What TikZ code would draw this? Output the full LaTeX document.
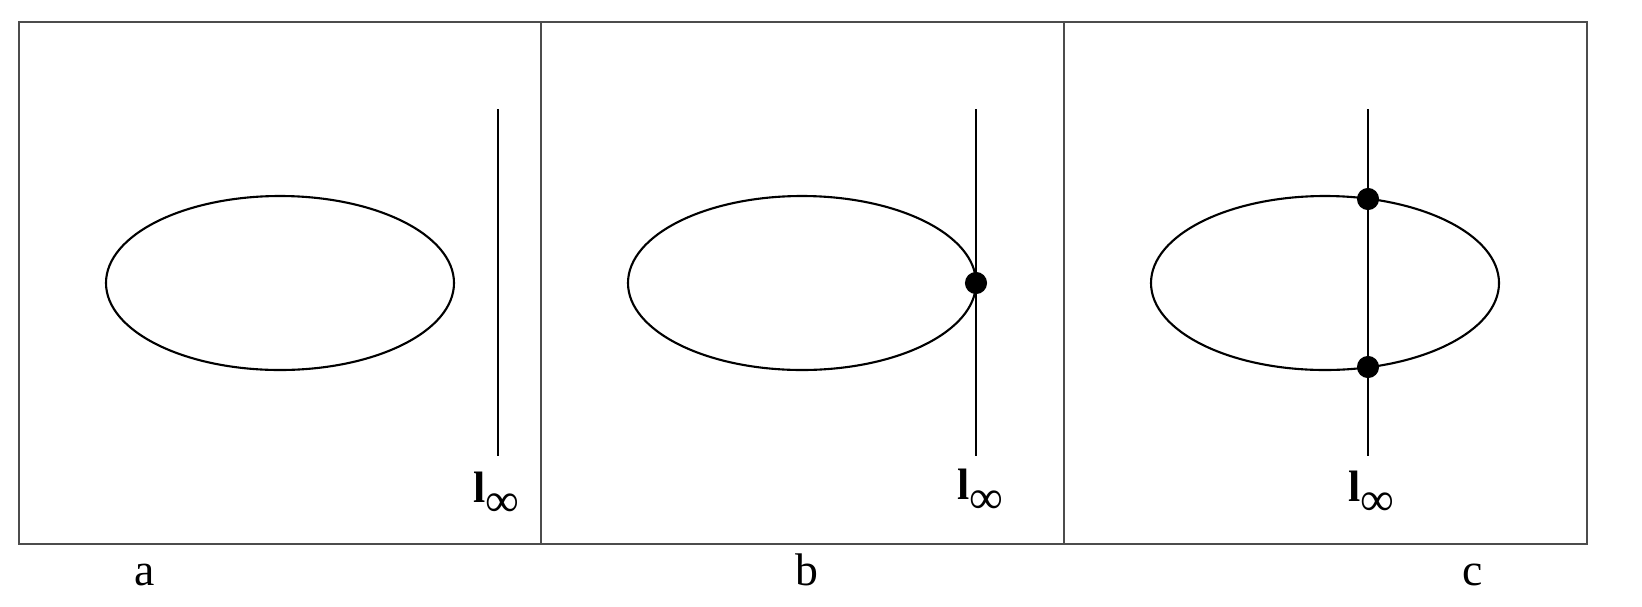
\documentclass[tikz,border=0pt]{standalone}
\usepackage{fontspec}
\setmainfont{Liberation Serif}
\begin{document}
\begin{tikzpicture}[x=0.02cm,y=-0.02cm,
  frame/.style={draw=black!70, line width=0.6pt},
  conic/.style={draw=black, line width=1.2pt},
  linf/.style={draw=black, line width=1.2pt},
  dot/.style={circle, fill=black, inner sep=0pt, minimum size=12.6pt},
  lbl/.style={anchor=base west, inner sep=0pt, font=\fontsize{25}{28}\selectfont},
  panel/.style={anchor=base, inner sep=0pt, font=\fontsize{26}{30}\selectfont}]
\useasboundingbox (0,0) rectangle (1642,606);
% frames
\draw[frame] (19,22) rectangle (1587,544);
\draw[frame] (541,22) -- (541,544);
\draw[frame] (1064,22) -- (1064,544);
% panel a
\draw[conic] (280,283) ellipse [x radius=174, y radius=87];
\coordinate (at) at (498,109);
\coordinate (ab) at (498,456);
\draw[linf] (at) -- (ab);
\node[lbl] (la) at (473,502) {\textbf{l}\raisebox{-8pt}{\fontsize{27}{29}\selectfont ∞}};
\node[panel] (pa) at (145,585) {a};
% panel b
\draw[conic] (802,283) ellipse [x radius=174, y radius=87];
\coordinate (bt) at (976,109);
\coordinate (bb) at (976,456);
\draw[linf] (bt) -- (bb);
\node[dot] (db) at (976,283) {};
\node[lbl] (lb) at (957,499) {\textbf{l}\raisebox{-8pt}{\fontsize{27}{29}\selectfont ∞}};
\node[panel] (pb) at (807,585) {b};
% panel c
\draw[conic] (1325,283) ellipse [x radius=174, y radius=87];
\coordinate (ct) at (1368,109);
\coordinate (cb) at (1368,456);
\draw[linf] (ct) -- (cb);
\node[dot] (dc1) at (1368,199) {};
\node[dot] (dc2) at (1368,367) {};
\node[lbl] (lc) at (1348,501) {\textbf{l}\raisebox{-8pt}{\fontsize{27}{29}\selectfont ∞}};
\node[panel] (pc) at (1473,585) {c};
\end{tikzpicture}
\end{document}
